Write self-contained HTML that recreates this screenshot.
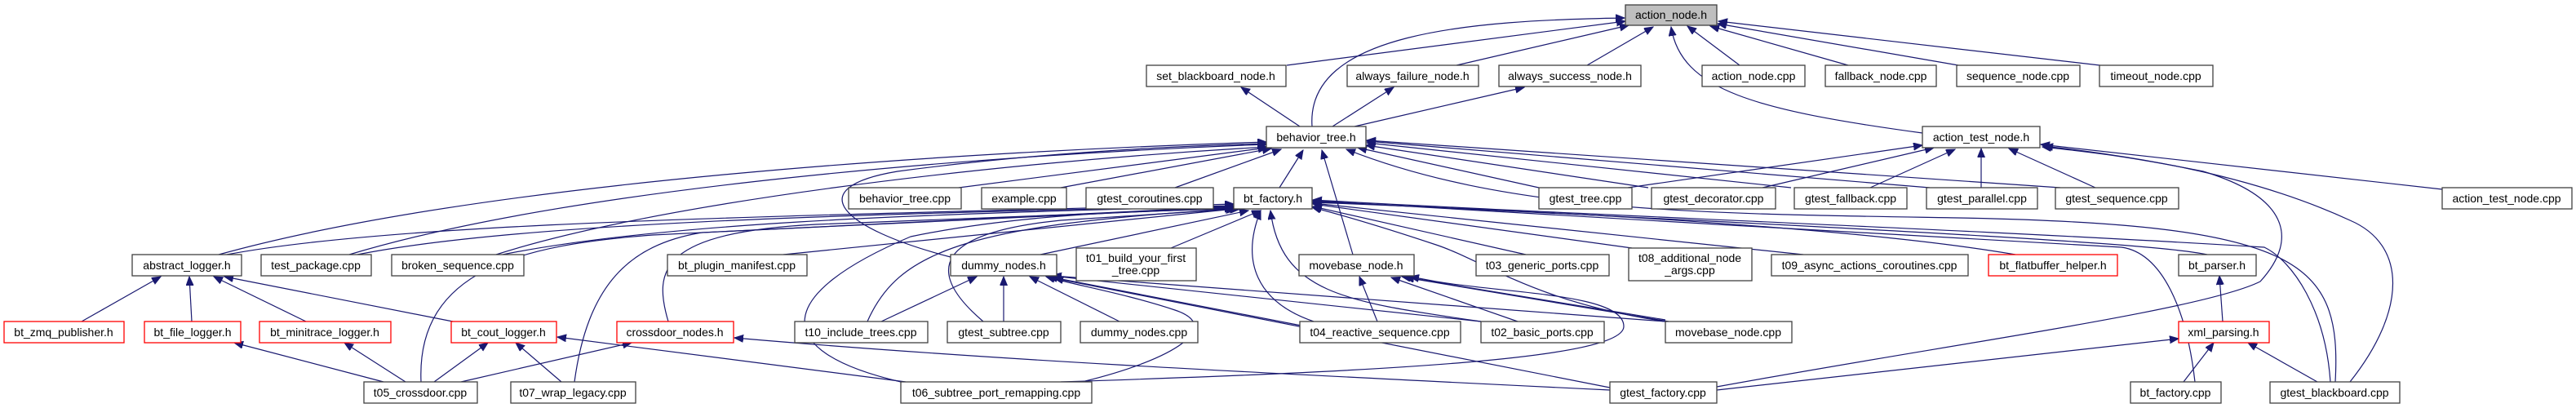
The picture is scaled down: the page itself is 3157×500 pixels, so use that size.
<!DOCTYPE html>
<html><head><meta charset="utf-8"><style>
html,body{margin:0;padding:0;background:#fff;}
svg{display:block;}
text{font-family:"Liberation Sans",sans-serif;font-size:14px;fill:#000;text-anchor:middle;}
.n{fill:#fff;stroke:#404040;stroke-width:1.3;}
.r{fill:#fff;stroke:#ff0000;stroke-width:1.3;}
.g{fill:#bfbfbf;stroke:#404040;stroke-width:1.3;}
path{fill:none;stroke:#191970;stroke-width:1.2;marker-end:url(#a);}
</style></head><body>
<svg width="3157" height="500" viewBox="0 0 3157 500" xmlns="http://www.w3.org/2000/svg">
<defs><marker id="a" markerUnits="userSpaceOnUse" markerWidth="12" markerHeight="10" refX="11" refY="4.5" orient="auto"><path d="M0,0 L11,4.5 L0,9 z" style="fill:#191970;stroke:#191970;stroke-width:1;marker-end:none"/></marker></defs>

<!-- edges to action_node.h -->
<path d="M1577,80 L1992,26"/>
<path d="M1785,80 L1996,31"/>
<path d="M1945,80 L2026,33"/>
<path d="M1608,155 C1600,40 1800,25 1991,22"/>
<path d="M2132,80 L2068,32"/>
<path d="M2265,80 L2096,32"/>
<path d="M2400,80 L2105,29"/>
<path d="M2582,81 L2106,26"/>
<path d="M2356,163 C2150,135 2060,110 2048,33"/>
<!-- to set_blackboard / always_* -->
<path d="M1593,155 L1521,107"/>
<path d="M1633,155 L1708,107"/>
<path d="M1660,155 L1868,107"/>

<!-- to behavior_tree.h -->
<path d="M268,312 C600,220 1200,185 1552,174"/>
<path d="M428,312 C700,230 1200,190 1552,177"/>
<path d="M608,312 C800,250 1200,200 1553,180"/>
<path d="M1165,315 C1030,280 980,230 1100,210 C1250,190 1400,180 1552,176"/>
<path d="M1175,230 L1553,181"/>
<path d="M1300,230 L1558,182"/>
<path d="M1440,230 L1570,183"/>
<path d="M1568,230 L1597,184"/>
<path d="M1658,312 L1620,184"/>
<path d="M1886,230 L1664,181"/>
<path d="M2020,230 L1674,178"/>
<path d="M2195,230 L1675,175"/>
<path d="M2365,230 L1675,173"/>
<path d="M2525,230 L1675,172"/>
<path d="M2862,468 C2870,320 2820,275 2400,267 C2100,262 1850,262 1650,183"/>

<!-- to bt_factory.h -->
<path d="M278,312 C500,270 1000,265 1512,250"/>
<path d="M438,312 C650,270 1100,262 1512,252"/>
<path d="M616,312 C800,275 1100,262 1512,253"/>
<path d="M516,468 C510,330 640,300 800,288 L1512,253"/>
<path d="M704,468 C720,350 770,300 860,285 L1512,254"/>
<path d="M819,394 C800,330 810,285 1000,275 L1512,255"/>
<path d="M960,312 L1513,256"/>
<path d="M1275,312 L1530,258"/>
<path d="M1435,304 L1545,258"/>
<path d="M1063,394 C1100,310 1180,275 1515,256"/>
<path d="M1205,394 C1130,330 1150,285 1300,270 L1518,256"/>
<path d="M1104,468 C940,430 950,360 1116,290 C1250,262 1400,258 1520,256"/>
<path d="M1610,394 C1540,370 1520,320 1545,258"/>
<path d="M1815,394 C1650,370 1570,360 1557,258"/>
<path d="M2041,394 C1880,370 1820,320 1760,300 C1700,280 1650,265 1608,254"/>
<path d="M1870,312 L1609,253"/>
<path d="M2000,304 L1609,250"/>
<path d="M2210,312 L1609,249"/>
<path d="M2470,312 C2400,300 2200,270 1609,248"/>
<path d="M2705,312 C2650,300 2400,285 1609,247"/>
<path d="M2690,468 C2680,380 2650,310 2600,303 C2300,285 1900,265 1609,246"/>
<path d="M2856,468 C2850,380 2810,320 2775,303 C2400,280 1900,262 1609,245"/>

<!-- to abstract_logger.h -->
<path d="M100,394 L197,339"/>
<path d="M235,394 L232,339"/>
<path d="M375,394 L262,339"/>
<path d="M555,394 L275,339"/>
<!-- loggers -->
<path d="M470,468 L287,420"/>
<path d="M497,468 L422,420"/>
<path d="M532,468 L598,420"/>
<path d="M688,468 L632,420"/>
<path d="M1110,468 L683,413"/>
<path d="M565,468 L774,420"/>
<path d="M1973,478 C1500,455 1200,440 900,414"/>

<!-- to dummy_nodes.h -->
<path d="M1080,394 L1197,339"/>
<path d="M1230,394 L1230,339"/>
<path d="M1372,394 L1262,339"/>
<path d="M1330,467 C1440,440 1500,400 1440,380 C1380,360 1320,350 1282,339"/>
<path d="M1600,400 L1285,339"/>
<path d="M1815,394 L1288,338"/>
<path d="M2041,394 L1290,338"/>
<path d="M1973,475 L1292,341"/>

<!-- to movebase_node.h -->
<path d="M1688,394 L1666,339"/>
<path d="M1860,394 L1705,340"/>
<path d="M2041,392 L1718,339"/>
<path d="M2045,394 L1722,340"/>
<path d="M1300,468 C1700,455 1990,440 1990,400 C1990,360 1850,360 1760,345 L1728,339"/>

<!-- to action_test_node.h -->
<path d="M1995,230 L2356,178"/>
<path d="M2160,230 L2370,181"/>
<path d="M2292,230 L2396,183"/>
<path d="M2428,230 L2428,182"/>
<path d="M2568,230 L2462,182"/>
<path d="M2993,232 L2501,177"/>
<path d="M2880,468 C2950,380 2950,300 2880,270 C2750,210 2600,190 2505,179"/>
<path d="M2104,474 C2400,420 2700,380 2770,345 C2820,290 2800,240 2700,210 C2600,190 2550,185 2503,180"/>

<!-- xml_parsing / bt_parser -->
<path d="M2676,468 L2713,420"/>
<path d="M2840,468 L2755,420"/>
<path d="M2104,478 L2670,415"/>
<path d="M2724,394 L2720,338"/>

<!-- nodes -->
<rect class="g" x="1992" y="6" width="112" height="25"/><text x="2048" y="23">action_node.h</text>
<rect class="n" x="1405" y="80" width="171" height="26"/><text x="1490" y="98">set_blackboard_node.h</text>
<rect class="n" x="1651" y="80" width="161" height="26"/><text x="1731" y="98">always_failure_node.h</text>
<rect class="n" x="1837" y="80" width="174" height="26"/><text x="1924" y="98">always_success_node.h</text>
<rect class="n" x="2086" y="80" width="126" height="26"/><text x="2149" y="98">action_node.cpp</text>
<rect class="n" x="2237" y="80" width="136" height="26"/><text x="2305" y="98">fallback_node.cpp</text>
<rect class="n" x="2398" y="80" width="151" height="26"/><text x="2473" y="98">sequence_node.cpp</text>
<rect class="n" x="2573" y="80" width="139" height="26"/><text x="2642" y="98">timeout_node.cpp</text>

<rect class="n" x="1552" y="155" width="122" height="26"/><text x="1613" y="173">behavior_tree.h</text>
<rect class="n" x="2356" y="155" width="144" height="26"/><text x="2428" y="173">action_test_node.h</text>

<rect class="n" x="1040" y="230" width="138" height="26"/><text x="1109" y="248">behavior_tree.cpp</text>
<rect class="n" x="1203" y="230" width="104" height="26"/><text x="1255" y="248">example.cpp</text>
<rect class="n" x="1331" y="230" width="156" height="26"/><text x="1409" y="248">gtest_coroutines.cpp</text>
<rect class="n" x="1512" y="230" width="96" height="26"/><text x="1560" y="248">bt_factory.h</text>
<rect class="n" x="1886" y="230" width="114" height="26"/><text x="1943" y="248">gtest_tree.cpp</text>
<rect class="n" x="2024" y="230" width="152" height="26"/><text x="2100" y="248">gtest_decorator.cpp</text>
<rect class="n" x="2199" y="230" width="138" height="26"/><text x="2268" y="248">gtest_fallback.cpp</text>
<rect class="n" x="2361" y="230" width="136" height="26"/><text x="2429" y="248">gtest_parallel.cpp</text>
<rect class="n" x="2519" y="230" width="151" height="26"/><text x="2594" y="248">gtest_sequence.cpp</text>
<rect class="n" x="2993" y="230" width="159" height="26"/><text x="3072" y="248">action_test_node.cpp</text>

<rect class="n" x="162" y="312" width="134" height="26"/><text x="229" y="330">abstract_logger.h</text>
<rect class="n" x="320" y="312" width="135" height="26"/><text x="387" y="330">test_package.cpp</text>
<rect class="n" x="480" y="312" width="162" height="26"/><text x="561" y="330">broken_sequence.cpp</text>
<rect class="n" x="818" y="312" width="171" height="26"/><text x="903" y="330">bt_plugin_manifest.cpp</text>
<rect class="n" x="1165" y="312" width="130" height="26"/><text x="1230" y="330">dummy_nodes.h</text>
<rect class="n" x="1319" y="304" width="147" height="40"/><text x="1392" y="321">t01_build_your_first</text><text x="1392" y="336">_tree.cpp</text>
<rect class="n" x="1592" y="312" width="141" height="26"/><text x="1662" y="330">movebase_node.h</text>
<rect class="n" x="1809" y="312" width="163" height="26"/><text x="1890" y="330">t03_generic_ports.cpp</text>
<rect class="n" x="1996" y="304" width="151" height="40"/><text x="2071" y="321">t08_additional_node</text><text x="2071" y="336">_args.cpp</text>
<rect class="n" x="2171" y="312" width="241" height="26"/><text x="2291" y="330">t09_async_actions_coroutines.cpp</text>
<rect class="r" x="2437" y="312" width="158" height="26"/><text x="2516" y="330">bt_flatbuffer_helper.h</text>
<rect class="n" x="2670" y="312" width="95" height="26"/><text x="2717" y="330">bt_parser.h</text>

<rect class="r" x="5" y="394" width="147" height="26"/><text x="78" y="412">bt_zmq_publisher.h</text>
<rect class="r" x="177" y="394" width="118" height="26"/><text x="236" y="412">bt_file_logger.h</text>
<rect class="r" x="318" y="394" width="161" height="26"/><text x="398" y="412">bt_minitrace_logger.h</text>
<rect class="r" x="553" y="394" width="129" height="26"/><text x="617" y="412">bt_cout_logger.h</text>
<rect class="r" x="756" y="394" width="143" height="26"/><text x="827" y="412">crossdoor_nodes.h</text>
<rect class="n" x="974" y="394" width="163" height="26"/><text x="1055" y="412">t10_include_trees.cpp</text>
<rect class="n" x="1161" y="394" width="139" height="26"/><text x="1230" y="412">gtest_subtree.cpp</text>
<rect class="n" x="1324" y="394" width="144" height="26"/><text x="1396" y="412">dummy_nodes.cpp</text>
<rect class="n" x="1593" y="394" width="197" height="26"/><text x="1691" y="412">t04_reactive_sequence.cpp</text>
<rect class="n" x="1815" y="394" width="151" height="26"/><text x="1890" y="412">t02_basic_ports.cpp</text>
<rect class="n" x="2041" y="394" width="155" height="26"/><text x="2118" y="412">movebase_node.cpp</text>
<rect class="r" x="2670" y="394" width="111" height="26"/><text x="2725" y="412">xml_parsing.h</text>

<rect class="n" x="446" y="468" width="139" height="26"/><text x="515" y="486">t05_crossdoor.cpp</text>
<rect class="n" x="626" y="468" width="153" height="26"/><text x="702" y="486">t07_wrap_legacy.cpp</text>
<rect class="n" x="1104" y="468" width="234" height="26"/><text x="1221" y="486">t06_subtree_port_remapping.cpp</text>
<rect class="n" x="1973" y="468" width="131" height="26"/><text x="2038" y="486">gtest_factory.cpp</text>
<rect class="n" x="2611" y="468" width="111" height="26"/><text x="2666" y="486">bt_factory.cpp</text>
<rect class="n" x="2782" y="468" width="159" height="26"/><text x="2861" y="486">gtest_blackboard.cpp</text>
</svg>
</body></html>
